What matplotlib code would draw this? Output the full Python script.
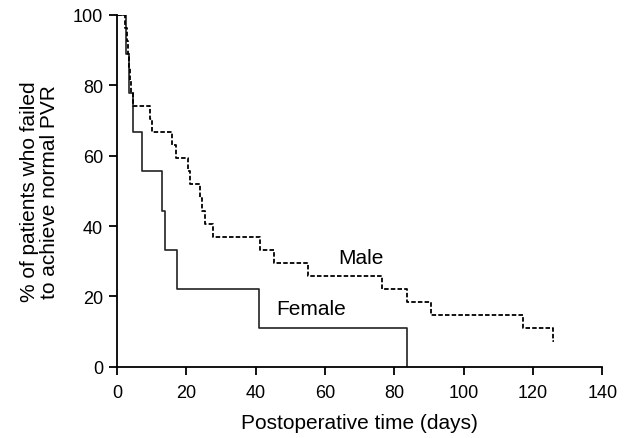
import matplotlib
matplotlib.use('Agg')
import matplotlib.pyplot as plt

plt.rcParams['font.family'] = ['Liberation Sans', 'DejaVu Sans']

# Kaplan-Meier step data (time in days, % still failing)
female_t = [0, 2.5, 3.5, 4.6, 7.1, 13.0, 14.0, 17.3, 40.9, 83.6]
female_s = [100, 88.9, 77.8, 66.7, 55.6, 44.4, 33.3, 22.2, 11.1, 0]

male_t = [0, 2.3, 2.8, 3.2, 3.5, 3.8, 4.2, 4.6, 9.5, 10.0, 16.0, 17.0,
          20.5, 21.0, 24.0, 24.5, 25.4, 27.7, 41.3, 45.3, 55.0, 76.4,
          83.6, 90.5, 117.0, 125.8]
male_s = [100, 96.3, 92.6, 88.9, 85.2, 81.5, 77.8, 74.1, 70.4, 66.7, 63.0,
          59.3, 55.6, 51.9, 48.1, 44.4, 40.7, 37.0, 33.3, 29.6, 25.9, 22.2,
          18.5, 14.8, 11.1, 7.4]
male_end = 126.2

fig = plt.figure(figsize=(6.32, 4.39), dpi=100)
ax = fig.add_axes([0.185, 0.162, 0.768, 0.802])

ax.step(female_t + [female_t[-1]], female_s + [female_s[-1]], where='post',
        color='#222222', lw=1.2)
ax.step(male_t + [male_end], male_s + [male_s[-1]], where='post',
        color='black', lw=1.3, linestyle=(0, (2.5, 1.2)))

ax.text(70.5, 31, 'Male', fontsize=15, ha='center', va='center')
ax.text(56, 16.5, 'Female', fontsize=15, ha='center', va='center')

ax.set_xlim(0, 140)
ax.set_ylim(0, 100)
ax.set_xticks(range(0, 141, 20))
ax.set_yticks(range(0, 101, 20))
ax.spines['top'].set_visible(False)
ax.spines['right'].set_visible(False)
ax.spines['left'].set_linewidth(1.3)
ax.spines['bottom'].set_linewidth(1.3)
ax.tick_params(direction='out', length=6, width=1.3, labelsize=13)
ax.tick_params(axis='x', pad=6)
ax.tick_params(axis='y', pad=4)
ax.set_xlabel('Postoperative time (days)', fontsize=15, labelpad=9)
ax.set_ylabel('% of patients who failed\nto achieve normal PVR', fontsize=15,
              labelpad=10, linespacing=1.05)

fig.savefig('out.png', dpi=100)
